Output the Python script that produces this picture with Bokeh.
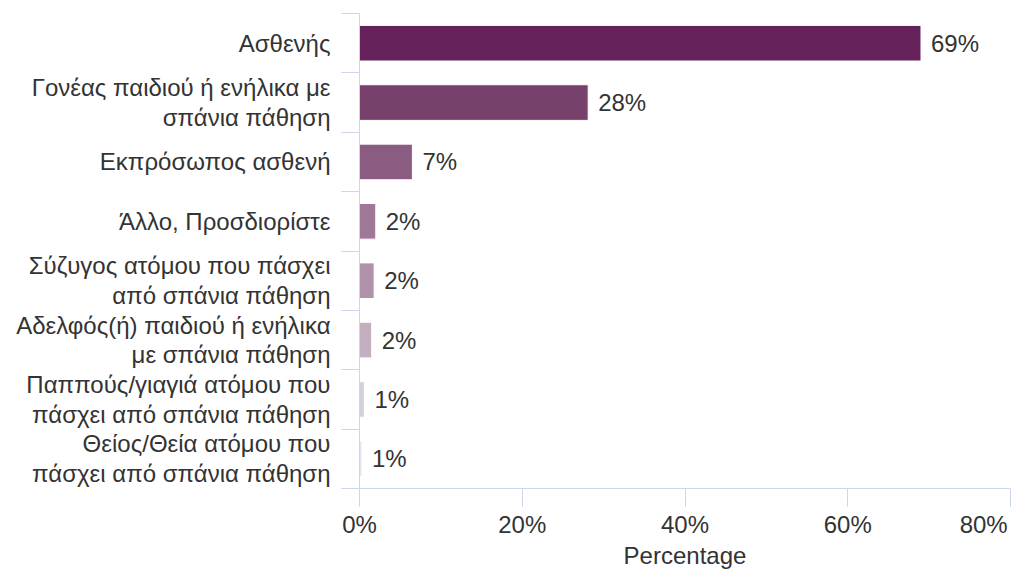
from bokeh.plotting import figure
from bokeh.models import Range1d, FixedTicker, ColumnDataSource
from bokeh.core.properties import value
from bokeh.embed import file_html
from bokeh.resources import INLINE

categories = [
    "Ασθενής",
    "Γονέας παιδιού ή ενήλικα με\nσπάνια πάθηση",
    "Εκπρόσωπος ασθενή",
    "Άλλο, Προσδιορίστε",
    "Σύζυγος ατόμου που πάσχει\nαπό σπάνια πάθηση",
    "Αδελφός(ή) παιδιού ή ενήλικα\nμε σπάνια πάθηση",
    "Παππούς/γιαγιά ατόμου που\nπάσχει από σπάνια πάθηση",
    "Θείος/Θεία ατόμου που\nπάσχει από σπάνια πάθηση",
]
values = [69.0, 28.1, 6.5, 2.0, 1.8, 1.5, 0.6, 0.3]
value_labels = ["69%", "28%", "7%", "2%", "2%", "2%", "1%", "1%"]
colors = ["#652159", "#77416c", "#8a5c81", "#9e7896", "#b093aa", "#c4afc0", "#d6d0dc", "#e2e5ef"]
x_ticks = [0, 20, 40, 60, 80]
x_tick_labels = ["0%", "20%", "40%", "60%", "80%"]
x_title = "Percentage"

FONT = "Liberation Sans"
TXT = "#333333"
AXIS = "#ccd6eb"
FS = "24px"

centers = [i + 0.5 for i in range(len(categories))]
src = ColumnDataSource(dict(y=centers, right=values, color=colors, lab=value_labels))

p = figure(width=1012, height=571, x_range=Range1d(0, 80), y_range=Range1d(len(categories), 0),
           output_backend="svg", toolbar_location=None,
           min_border_left=359, min_border_right=2, min_border_top=13, min_border_bottom=81)
p.outline_line_color = None
p.xgrid.visible = False
p.ygrid.visible = False
p.background_fill_color = "white"
p.border_fill_color = "white"

p.hbar(y="y", right="right", left=0, height=0.6, color="color", line_color="white", line_width=1, source=src)
p.text(x="right", y="y", text="lab", x_offset=10, text_baseline="middle", text_align="left",
       text_font=value(FONT), text_font_size=FS, text_color=TXT, source=src)

# x axis (last label kept just inside the canvas edge, as in the reference)
xa = p.xaxis[0]
xa.ticker = FixedTicker(ticks=x_ticks, minor_ticks=[])
overrides = {}
for t, l in zip(x_ticks, x_tick_labels):
    overrides[t] = l + ("\u2009" if t == x_ticks[-1] else "")
xa.major_label_overrides = overrides
xa.axis_line_color = AXIS
xa.major_tick_line_color = AXIS
xa.major_tick_out = 18
xa.major_tick_in = 0
xa.minor_tick_line_color = None
xa.major_label_standoff = 4
xa.major_label_text_font = FONT
xa.major_label_text_font_size = FS
xa.major_label_text_color = TXT
xa.axis_label = x_title
xa.axis_label_text_font = FONT
xa.axis_label_text_font_size = FS
xa.axis_label_text_font_style = "normal"
xa.axis_label_text_color = TXT
xa.axis_label_standoff = 1

# y axis
ya = p.yaxis[0]
ya.ticker = FixedTicker(ticks=centers, minor_ticks=list(range(len(categories) + 1)))
ya.major_label_overrides = {c: lab for c, lab in zip(centers, categories)}
ya.axis_line_color = AXIS
ya.major_tick_line_color = None
ya.major_tick_out = 0
ya.major_tick_in = 0
ya.minor_tick_line_color = AXIS
ya.minor_tick_out = 18
ya.minor_tick_in = 0
ya.major_label_standoff = 11
ya.major_label_text_font = FONT
ya.major_label_text_font_size = FS
ya.major_label_text_line_height = 1.1
ya.major_label_text_color = TXT

open("out.html", "w").write(file_html(p, INLINE))
